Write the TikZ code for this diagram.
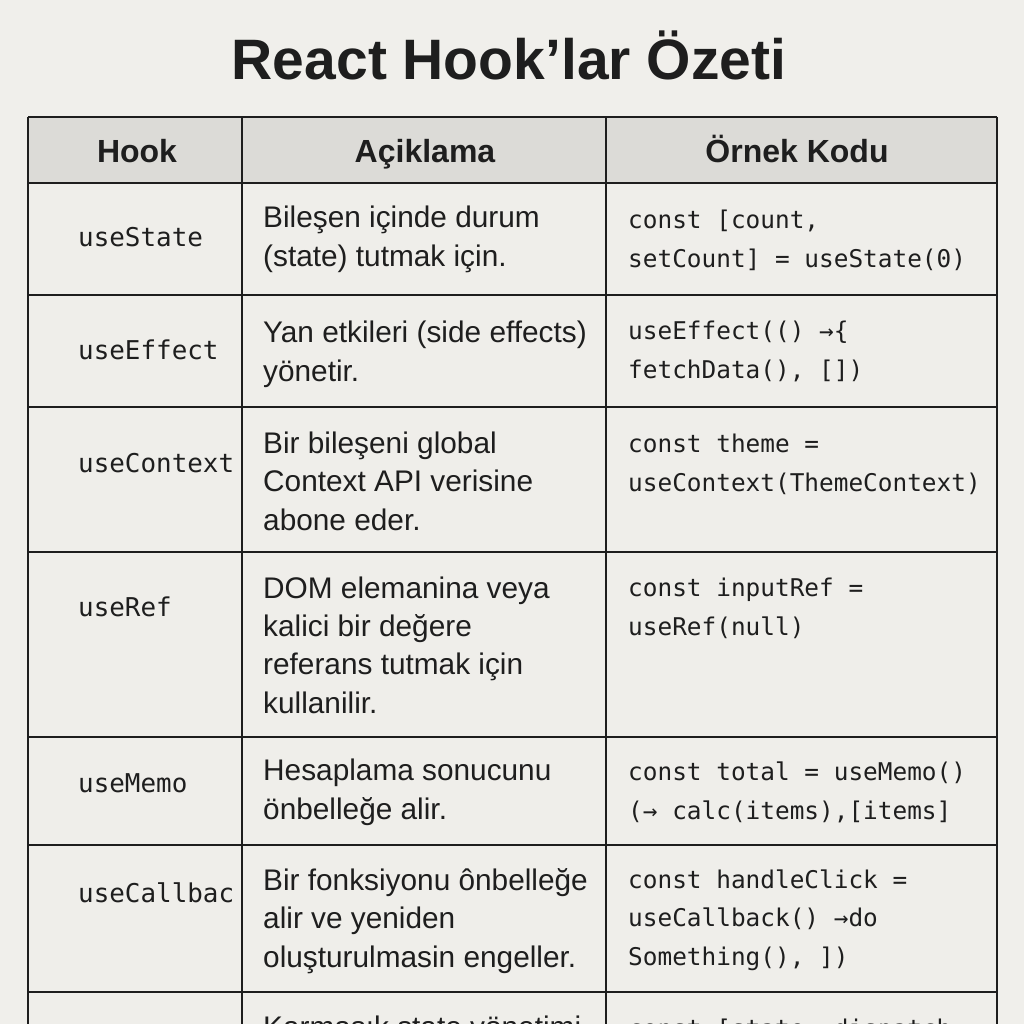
\documentclass[tikz,border=0pt]{standalone}
\usepackage{fontspec}
\setmainfont{Liberation Sans}
\setmonofont{DejaVu Sans Mono}
\usepackage{xcolor}

\definecolor{paper}{HTML}{F0EFEB}
\definecolor{headfill}{HTML}{DCDBD7}
\definecolor{cellfill}{HTML}{EFEEEA}
\definecolor{ink}{HTML}{1E1E1E}

% multi-line nodes sit on the baseline of their last line
\tikzset{
  rule/.style={draw=ink,line width=1.4pt},
  headtext/.style={font=\fontsize{32}{38}\selectfont\bfseries,text=ink,anchor=base,inner sep=0pt},
  hooktext/.style={font=\fontsize{25.9}{38}\ttfamily,text=ink,anchor=base west,inner sep=0pt},
  desctext/.style={font=\fontsize{29.8}{38.2}\selectfont,text=ink,align=left,anchor=base west,inner sep=0pt},
  codetext/.style={font=\fontsize{24.4}{38.4}\ttfamily,text=ink,align=left,anchor=base west,inner sep=0pt}
}

\begin{document}
\begin{tikzpicture}[x=1pt,y=-1pt]
  \useasboundingbox (0,0) rectangle (1024,1024);
  \clip (0,0) rectangle (1024,1024);
  \fill[paper] (0,0) rectangle (1024,1024);

  % table body and header
  \fill[cellfill] (28,183) rectangle (997,1040);
  \fill[headfill] (28,117) rectangle (997,183);
  \foreach \y in {117,183,295,407,552,737,845,992}
    \draw[rule] (28,\y) -- (997,\y);
  \foreach \x in {28,242,606,997}
    \draw[rule] (\x,117) -- (\x,1040);

  \node[font=\fontsize{57}{62}\selectfont\bfseries,text=ink,anchor=base,inner sep=0pt] (title) at (509,80) {React Hook’lar Özeti};

  % header
  \node[headtext] (hHook) at (137,162.5) {Hook};
  \node[headtext] (hDesc) at (425,162.5) {Açiklama};
  \node[headtext] (hCode) at (797,162.5) {Örnek Kodu};

  % useState
  \node[hooktext] (kState) at (78,247) {useState};
  \node[desctext] (dState) at (263,266) {Bileşen içinde durum\\(state) tutmak için.};
  \node[codetext] (cState) at (628,267) {const [count,\\setCount] = useState(0)};

  % useEffect
  \node[hooktext] (kEffect) at (78,359) {useEffect};
  \node[desctext] (dEffect) at (263,381) {Yan etkileri (side effects)\\yönetir.};
  \node[codetext] (cEffect) at (628,378) {useEffect(() →\{\\fetchData(), [])};

  % useContext
  \node[hooktext] (kContext) at (78,472) {useContext};
  \node[desctext] (dContext) at (263,530) {Bir bileşeni global\\Context API verisine\\abone eder.};
  \node[codetext] (cContext) at (628,491) {const theme =\\useContext(ThemeContext)};

  % useRef
  \node[hooktext] (kRef) at (78,616) {useRef};
  \node[desctext] (dRef) at (263,713) {DOM elemanina veya\\kalici bir değere\\referans tutmak için\\kullanilir.};
  \node[codetext] (cRef) at (628,635) {const inputRef =\\useRef(null)};

  % useMemo
  \node[hooktext] (kMemo) at (78,792) {useMemo};
  \node[desctext] (dMemo) at (263,819) {Hesaplama sonucunu\\önbelleğe alir.};
  \node[codetext] (cMemo) at (628,819) {const total = useMemo()\\(→ calc(items),[items]};

  % useCallback
  \node[hooktext] (kCallback) at (78,902) {useCallbac};
  \node[desctext] (dCallback) at (263,967) {Bir fonksiyonu ônbelleğe\\alir ve yeniden\\oluşturulmasin engeller.};
  \node[codetext] (cCallback) at (628,965) {const handleClick =\\useCallback() →do\\Something(), ])};

  % cut-off last row
  \node[desctext] (dReducer) at (263,1037) {Karmaşık state yönetimi};
  \node[codetext] (cReducer) at (628,1037) {const [state, dispatch};
\end{tikzpicture}
\end{document}
